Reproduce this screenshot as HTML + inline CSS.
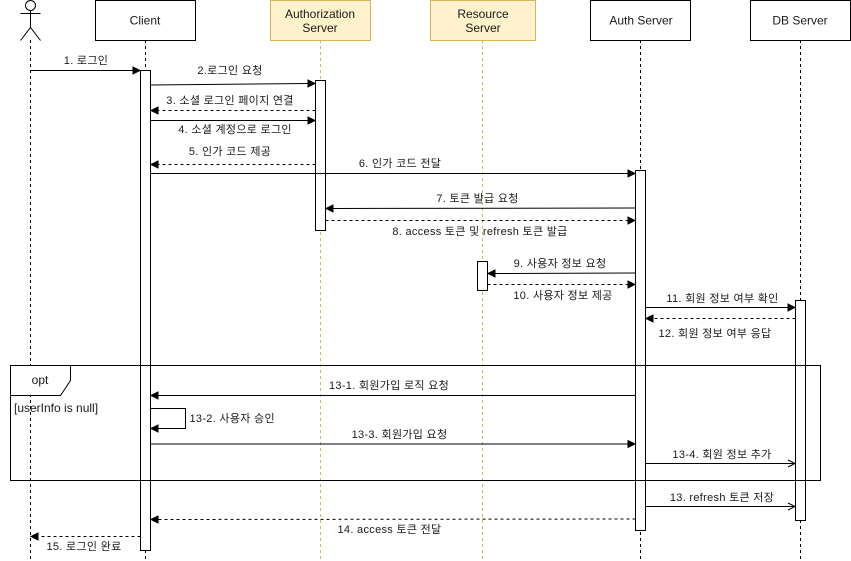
<!DOCTYPE html>
<html><head><meta charset="utf-8"><style>
html,body{margin:0;padding:0;background:#fff;width:851px;height:561px;overflow:hidden}
svg{display:block}
text{font-family:"Liberation Sans","Noto Sans CJK KR","NanumGothic",sans-serif;font-size:11px;fill:#1a1a1a;text-anchor:middle;letter-spacing:.3px}
.b{font-size:12px;letter-spacing:0}
.l{text-anchor:start}
.u{font-size:12px;letter-spacing:0}
</style></head><body>
<svg width="851" height="561" viewBox="0 0 851 561" xmlns="http://www.w3.org/2000/svg">
<rect width="851" height="561" fill="#fff"/>
<!-- lifelines -->
<g fill="none" stroke="#000" stroke-dasharray="3 3">
<path d="M30.5 40V561M145.5 40V561M640.5 40V561M800.5 40V561"/>
<path d="M320.5 40V561M482.5 40V561" stroke="#d6b656"/>
</g>
<!-- actor -->
<g fill="none" stroke="#000">
<circle cx="30.5" cy="5.5" r="5" fill="#fff"/>
<path d="M30.5 10.5V27.5M20.5 13.5H40.5M20.5 40.5L30.5 27.5L40.5 40.5"/>
</g>
<!-- heads -->
<g stroke="#000" fill="#fff">
<rect x="95.5" y="0.5" width="100" height="40"/>
<rect x="590.5" y="0.5" width="100" height="40"/>
<rect x="750.5" y="0.5" width="100" height="40"/>
</g>
<g stroke="#d6b656" fill="#fff2cc">
<rect x="270.5" y="0.5" width="100" height="40"/>
<rect x="430.5" y="0.5" width="105" height="40"/>
</g>
<text class="b" x="145" y="24.5">Client</text>
<text class="b" x="320" y="18">Authorization</text>
<text class="b" x="320" y="32">Server</text>
<text class="b" x="483" y="18">Resource</text>
<text class="b" x="483" y="32">Server</text>
<text class="b" x="641" y="24.5">Auth Server</text>
<text class="b" x="800" y="24.5">DB Server</text>
<!-- activations -->
<g stroke="#000" fill="#fff">
<rect x="140.5" y="70.5" width="10" height="480"/>
<rect x="315.5" y="80.5" width="10" height="150"/>
<rect x="635.5" y="170.5" width="10" height="360"/>
<rect x="477.5" y="261.5" width="10" height="29"/>
<rect x="795.5" y="300.5" width="10" height="220"/>
</g>
<!-- frame -->
<rect x="10.5" y="365.5" width="810" height="115" fill="none" stroke="#000"/>
<path d="M10.5 365.5H70.5V380.5L60.5 395.5H10.5Z" fill="#fff" stroke="#000"/>
<text class="b" x="40" y="384">opt</text>
<text class="l u" x="14" y="412">[userInfo is null]</text>
<!-- solid lines -->
<g fill="none" stroke="#000">
<path d="M30.5 70.5H133"/>
<path d="M150.5 85L308 83.5"/>
<path d="M150.5 120.5H308"/>
<path d="M150.5 173.5H628"/>
<path d="M635.5 208L333 208.5"/>
<path d="M635.5 273L495 273.5"/>
<path d="M645.5 307.5H788"/>
<path d="M635.5 395.5H158"/>
<path d="M150.5 408.5H185.5V428.5H158"/>
<path d="M150.5 444H628"/>
<path d="M645.5 463.5H794"/>
<path d="M645.5 506.5H794"/>
<path d="M788 460L795 463.5L788 467M788 503L795 506.5L788 510"/>
</g>
<!-- dashed lines -->
<g fill="none" stroke="#000" stroke-dasharray="3 3">
<path d="M315.5 110.5H158"/>
<path d="M315.5 164.5H158"/>
<path d="M325.5 220.5H628"/>
<path d="M487.5 284.5H628"/>
<path d="M795.5 318.5H653"/>
<path d="M635.5 519L158 519.5"/>
<path d="M140.5 536.5H38"/>
</g>
<!-- arrowheads -->
<g fill="#000" stroke="#000">
<path d="M140 70.5L133 67V74Z"/>
<path d="M315 83.5L308 80V87Z"/>
<path d="M151 110.5L158 107V114Z"/>
<path d="M315 120.5L308 117V124Z"/>
<path d="M151 164.5L158 161V168Z"/>
<path d="M635 173.5L628 170V177Z"/>
<path d="M326 208.5L333 205V212Z"/>
<path d="M635 220.5L628 217V224Z"/>
<path d="M488 273.5L495 270V277Z"/>
<path d="M635 284.5L628 281V288Z"/>
<path d="M795 307.5L788 304V311Z"/>
<path d="M646 318.5L653 315V322Z"/>
<path d="M151 395.5L158 392V399Z"/>
<path d="M151 428.5L158 425V432Z"/>
<path d="M635 444L628 440.5V447.5Z"/>
<path d="M151 519.5L158 516V523Z"/>
<path d="M31 536.5L38 533V540Z"/>
</g>
<!-- labels -->
<text x="86" y="64">1. 로그인</text>
<text x="230" y="74">2.로그인 요청</text>
<text x="230" y="104">3. 소셜 로그인 페이지 연결</text>
<text x="235" y="133">4. 소셜 계정으로 로그인</text>
<text x="230" y="155">5. 인가 코드 제공</text>
<text x="400" y="167">6. 인가 코드 전달</text>
<text x="477.5" y="202">7. 토큰 발급 요청</text>
<text x="480" y="235">8. access 토큰 및 refresh 토큰 발급</text>
<text x="560" y="267">9. 사용자 정보 요청</text>
<text x="563" y="299">10. 사용자 정보 제공</text>
<text x="722.5" y="302">11. 회원 정보 여부 확인</text>
<text x="715" y="337">12. 회원 정보 여부 응답</text>
<text x="389" y="389">13-1. 회원가입 로직 요청</text>
<text class="l" x="189.5" y="422">13-2. 사용자 승인</text>
<text x="399.5" y="438">13-3. 회원가입 요청</text>
<text x="722" y="458">13-4. 회원 정보 추가</text>
<text x="722" y="501">13. refresh 토큰 저장</text>
<text x="389.5" y="533">14. access 토큰 전달</text>
<text x="84" y="550">15. 로그인 완료</text>
</svg>
</body></html>
